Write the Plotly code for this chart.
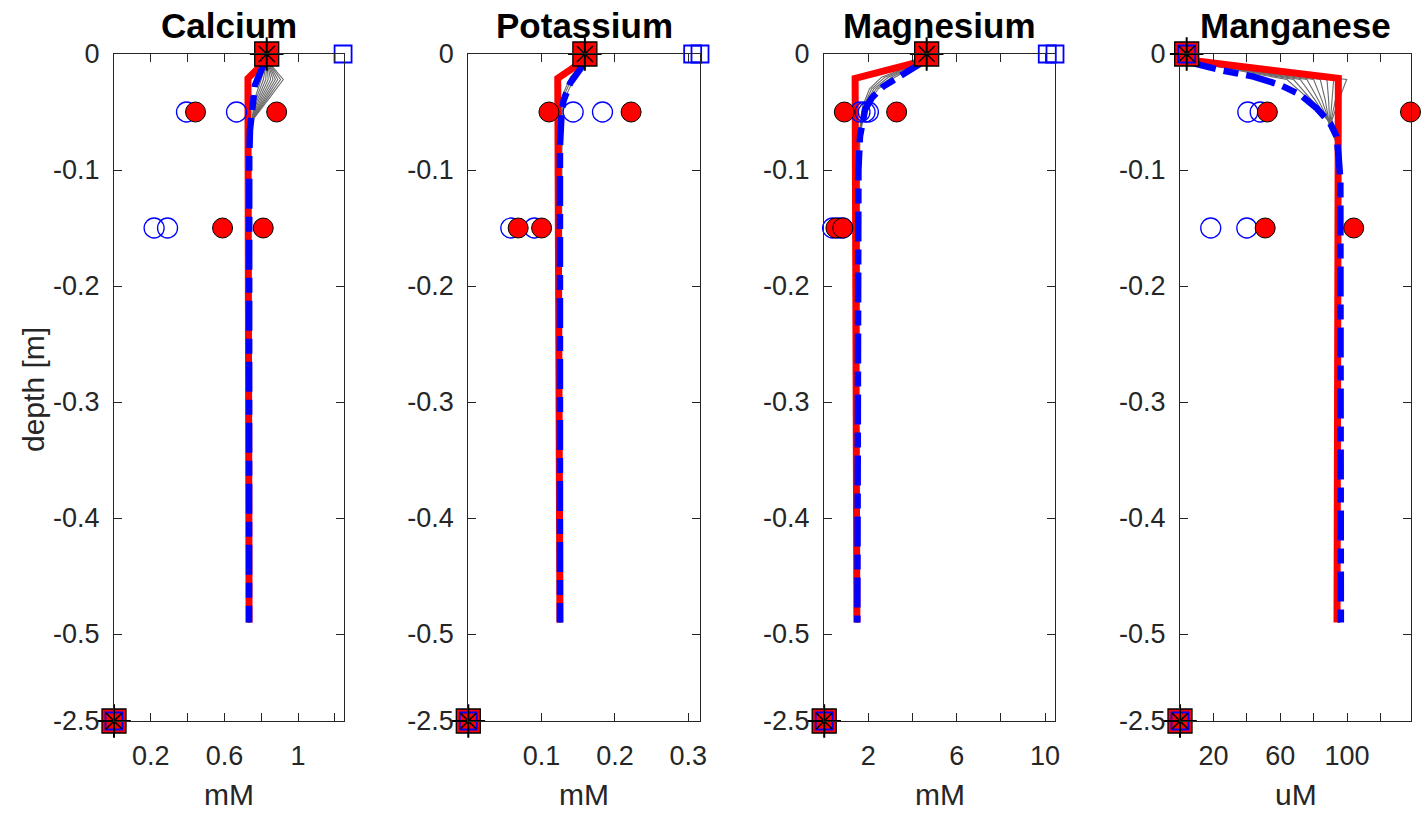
import plotly.graph_objects as go

W, H = 1423, 815

titles = ["Calcium", "Potassium", "Magnesium", "Manganese"]
units = ["mM", "mM", "mM", "uM"]
x_max = [1.25, 0.316, 10.45, 138.3]
x_tickvals = [[0.2, 0.4, 0.6, 0.8, 1.0, 1.2], [0.1, 0.2, 0.3], [2, 4, 6, 8, 10], [20, 40, 60, 80, 100, 120]]
x_ticktext = [["0.2", "", "0.6", "", "1", ""], ["0.1", "0.2", "0.3"], ["2", "", "6", "", "10"],
              ["20", "", "60", "", "100", ""]]
depth_ticks = [0, -0.1, -0.2, -0.3, -0.4, -0.5, -2.5]
depth_ticktext = ["0", "-0.1", "-0.2", "-0.3", "-0.4", "-0.5", "-2.5"]

# model result (red solid)
red_depth = [-0.005, -0.021, -0.49]
ca_red = [0.83, 0.728, 0.734]
k_red = [0.159, 0.122, 0.125]
mg_red = [4.64, 1.40, 1.48]
mn_red = [4.0, 94.8, 94.0]

# fitted model (blue dash-dot)
ca_blue_depth = [-0.005, -0.0095, -0.027, -0.047, -0.0655, -0.09, -0.49]
ca_blue = [0.83, 0.812, 0.766, 0.748, 0.739, 0.735, 0.734]
k_blue_depth = [-0.005, -0.011, -0.025, -0.040, -0.054, -0.08, -0.49]
k_blue = [0.159, 0.155, 0.139, 0.130, 0.127, 0.125, 0.125]
mg_blue_depth = [-0.005, -0.0167, -0.028, -0.038, -0.048, -0.071, -0.1, -0.49]
mg_blue = [4.64, 3.58, 2.67, 2.15, 1.85, 1.62, 1.55, 1.50]
mn_blue_depth = [-0.0066, -0.0138, -0.0195, -0.0267, -0.035, -0.047, -0.06, -0.071, -0.089, -0.109, -0.49]
mn_blue = [4.0, 24, 44, 60, 72, 82, 90, 93.7, 95, 96, 96.3]

# iteration curves (thin gray)
ca_gray_depth = [-0.005, -0.022, -0.04, -0.056, -0.08, -0.49]
ca_gray = [
    [0.83, 0.920, 0.835, 0.757, 0.736, 0.734],
    [0.83, 0.905, 0.826, 0.757, 0.736, 0.734],
    [0.83, 0.890, 0.818, 0.757, 0.736, 0.734],
    [0.83, 0.877, 0.810, 0.756, 0.736, 0.734],
    [0.83, 0.864, 0.802, 0.756, 0.736, 0.734],
    [0.83, 0.851, 0.794, 0.755, 0.736, 0.734],
    [0.83, 0.838, 0.786, 0.754, 0.736, 0.734],
    [0.83, 0.825, 0.778, 0.753, 0.736, 0.734],
    [0.83, 0.812, 0.770, 0.752, 0.736, 0.734],
    [0.83, 0.800, 0.762, 0.750, 0.736, 0.734],
]
k_gray_depth = [-0.005, -0.02, -0.035, -0.05, -0.49]
k_gray = [
    [0.159, 0.145, 0.134, 0.128, 0.125],
    [0.159, 0.142, 0.131, 0.127, 0.125],
    [0.159, 0.139, 0.129, 0.126, 0.125],
]
mg_gray_depth = [-0.005, -0.02, -0.03, -0.045, -0.07, -0.49]
mg_gray = [
    [4.64, 3.20, 2.45, 1.90, 1.61, 1.50],
    [4.64, 3.05, 2.35, 1.86, 1.60, 1.50],
    [4.64, 2.90, 2.25, 1.82, 1.60, 1.50],
    [4.64, 2.75, 2.15, 1.78, 1.59, 1.50],
    [4.64, 2.60, 2.05, 1.74, 1.58, 1.50],
]
mn_gray_depth = [-0.006, -0.022, -0.04, -0.057, -0.08, -0.49]
mn_gray = [
    [4.0, 99.8, 95.0, 91.0, 94.5, 95.0],
    [4.0, 96.0, 93.0, 90.5, 94.5, 95.0],
    [4.0, 92.0, 91.0, 90.0, 94.5, 95.0],
    [4.0, 88.0, 89.0, 89.5, 94.5, 95.0],
    [4.0, 84.0, 87.0, 89.0, 94.5, 95.0],
    [4.0, 80.0, 85.0, 89.0, 94.5, 95.0],
    [4.0, 76.0, 83.0, 88.8, 94.5, 95.0],
    [4.0, 72.0, 81.0, 88.6, 94.5, 95.0],
    [4.0, 68.0, 79.0, 88.5, 94.5, 95.0],
    [4.0, 64.0, 78.0, 88.5, 94.5, 95.0],
]

# observations
ca_obs_blue_depth = [-0.05, -0.05, -0.15, -0.15]
ca_obs_blue = [0.394, 0.666, 0.218, 0.291]
ca_obs_red_depth = [-0.05, -0.05, -0.15, -0.15]
ca_obs_red = [0.443, 0.884, 0.590, 0.811]
k_obs_blue_depth = [-0.05, -0.05, -0.15, -0.15]
k_obs_blue = [0.143, 0.183, 0.058, 0.090]
k_obs_red_depth = [-0.05, -0.05, -0.15, -0.15]
k_obs_red = [0.110, 0.222, 0.068, 0.100]
mg_obs_blue_depth = [-0.05, -0.05, -0.05, -0.15, -0.15, -0.15]
mg_obs_blue = [1.62, 1.85, 2.0, 0.38, 0.64, 0.84]
mg_obs_red_depth = [-0.05, -0.05, -0.15, -0.15]
mg_obs_red = [0.91, 3.28, 0.53, 0.84]
mn_obs_blue_depth = [-0.05, -0.05, -0.15, -0.15]
mn_obs_blue = [40.6, 48.0, 18.4, 40.0]
mn_obs_red_depth = [-0.05, -0.05, -0.15, -0.15]
mn_obs_red = [52.3, 138.0, 51.0, 104.0]

# boundary values
bc_depth = [0, -2.5]
ca_bc = [0.83, 0.0]
k_bc = [0.159, 0.0]
mg_bc = [4.64, 0.0]
mn_bc = [4.0, 0.0]
ca_bnd_depth = [0, -2.5]
ca_bnd = [1.245, 0.0]
k_bnd_depth = [0, 0, -2.5]
k_bnd = [0.306, 0.316, 0.0]
mg_bnd_depth = [0, 0, -2.5]
mg_bnd = [10.1, 10.45, 0.0]
mn_bnd_depth = [0, -2.5]
mn_bnd = [4.0, 0.0]


def ymap(d):
    # axis below -0.5 m is compressed
    return d if d >= -0.5 else -0.5 + (d + 0.5) * 0.0375


def ym(lst):
    return [ymap(v) for v in lst]


panels = [
    dict(red=ca_red, bd=ca_blue_depth, b=ca_blue, gd=ca_gray_depth, g=ca_gray,
         obd=ca_obs_blue_depth, ob=ca_obs_blue, ord=ca_obs_red_depth, orr=ca_obs_red,
         bc=ca_bc, nd=ca_bnd_depth, n=ca_bnd),
    dict(red=k_red, bd=k_blue_depth, b=k_blue, gd=k_gray_depth, g=k_gray,
         obd=k_obs_blue_depth, ob=k_obs_blue, ord=k_obs_red_depth, orr=k_obs_red,
         bc=k_bc, nd=k_bnd_depth, n=k_bnd),
    dict(red=mg_red, bd=mg_blue_depth, b=mg_blue, gd=mg_gray_depth, g=mg_gray,
         obd=mg_obs_blue_depth, ob=mg_obs_blue, ord=mg_obs_red_depth, orr=mg_obs_red,
         bc=mg_bc, nd=mg_bnd_depth, n=mg_bnd),
    dict(red=mn_red, bd=mn_blue_depth, b=mn_blue, gd=mn_gray_depth, g=mn_gray,
         obd=mn_obs_blue_depth, ob=mn_obs_blue, ord=mn_obs_red_depth, orr=mn_obs_red,
         bc=mn_bc, nd=mn_bnd_depth, n=mn_bnd),
]

x_px = [(114, 344), (468.3, 700), (824.2, 1055), (1180, 1411)]
y_px = (54, 721)

fig = go.Figure()
AX = "#262626"
FONT = "Liberation Sans, Arial, Helvetica, sans-serif"

for i, p in enumerate(panels):
    xa = "x" if i == 0 else f"x{i+1}"
    ya = "y" if i == 0 else f"y{i+1}"
    for g in p["g"]:
        fig.add_trace(go.Scatter(x=g, y=ym(p["gd"]), xaxis=xa, yaxis=ya, mode="lines",
                                 line=dict(color="#6a6a6a", width=1.1), showlegend=False, hoverinfo="skip"))
    fig.add_trace(go.Scatter(x=p["red"], y=ym(red_depth), xaxis=xa, yaxis=ya, mode="lines",
                             line=dict(color="#ff0000", width=7), showlegend=False))
    fig.add_trace(go.Scatter(x=p["b"], y=ym(p["bd"]), xaxis=xa, yaxis=ya, mode="lines",
                             line=dict(color="#0000ff", width=6.5, dash="30px,8px,15px,8px"),
                             showlegend=False))
    fig.add_trace(go.Scatter(x=p["ob"], y=ym(p["obd"]), xaxis=xa, yaxis=ya, mode="markers", cliponaxis=False,
                             marker=dict(symbol="circle-open", size=20, color="#0000ff",
                                         line=dict(color="#0000ff", width=1.3)), showlegend=False))
    fig.add_trace(go.Scatter(x=p["orr"], y=ym(p["ord"]), xaxis=xa, yaxis=ya, mode="markers", cliponaxis=False,
                             marker=dict(symbol="circle", size=20, color="#ff0000",
                                         line=dict(color="#000000", width=1)), showlegend=False))
    fig.add_trace(go.Scatter(x=p["bc"], y=ym(bc_depth), xaxis=xa, yaxis=ya, mode="markers", cliponaxis=False,
                             marker=dict(symbol="square", size=24, color="#ff0000",
                                         line=dict(color="#000000", width=1.3)), showlegend=False))
    fig.add_trace(go.Scatter(x=p["n"], y=ym(p["nd"]), xaxis=xa, yaxis=ya, mode="markers", cliponaxis=False,
                             marker=dict(symbol="square-open", size=17, color="#0000ff",
                                         line=dict(color="#0000ff", width=1.8)), showlegend=False))
    fig.add_trace(go.Scatter(x=p["bc"], y=ym(bc_depth), xaxis=xa, yaxis=ya, mode="markers", cliponaxis=False,
                             marker=dict(symbol="cross-thin-open", size=24, color="#000000",
                                         line=dict(color="#000000", width=2)), showlegend=False))
    fig.add_trace(go.Scatter(x=p["bc"], y=ym(bc_depth), xaxis=xa, yaxis=ya, mode="markers", cliponaxis=False,
                             marker=dict(symbol="x-thin-open", size=16, color="#000000",
                                         line=dict(color="#000000", width=1.6)), showlegend=False))

    l, r = x_px[i]
    xkey = "xaxis" if i == 0 else f"xaxis{i+1}"
    ykey = "yaxis" if i == 0 else f"yaxis{i+1}"
    common = dict(showline=True, linecolor=AX, linewidth=1.3, mirror="ticks", ticks="inside",
                  ticklen=8, tickwidth=1.3, tickcolor=AX, showgrid=False, zeroline=False,
                  automargin=False, tickfont=dict(family=FONT, size=27, color=AX))
    fig.layout[xkey] = dict(domain=[l / W, r / W], anchor=ya, range=[0, x_max[i]],
                            tickmode="array", tickvals=x_tickvals[i], ticktext=x_ticktext[i],
                            ticklabelstandoff=10, **common)
    fig.layout[ykey] = dict(domain=[1 - y_px[1] / H, 1 - y_px[0] / H], anchor=xa,
                            range=[ymap(-2.5), 0], tickmode="array",
                            tickvals=ym(depth_ticks), ticktext=depth_ticktext,
                            ticklabelstandoff=8, **common)
    cx = (l + r) / 2 / W
    fig.add_annotation(text=f"<b>{titles[i]}</b>", x=cx, y=1 - 25 / H, xref="paper", yref="paper",
                       showarrow=False, xanchor="center", yanchor="middle",
                       font=dict(family=FONT, size=35, color="#000000"))
    fig.add_annotation(text=units[i], x=cx, y=1 - 794 / H, xref="paper", yref="paper",
                       showarrow=False, xanchor="center", yanchor="middle",
                       font=dict(family=FONT, size=30, color=AX))

fig.add_annotation(text="depth [m]", x=33 / W, y=1 - 390 / H, xref="paper", yref="paper",
                   showarrow=False, xanchor="center", yanchor="middle", textangle=-90,
                   font=dict(family=FONT, size=30, color=AX))

fig.update_layout(width=W, height=H, autosize=False, margin=dict(l=0, r=0, t=0, b=0),
                  paper_bgcolor="white", plot_bgcolor="white", showlegend=False)

fig.write_html("out.html", config={"displayModeBar": False},
               post_script="document.body.style.margin='0';")
